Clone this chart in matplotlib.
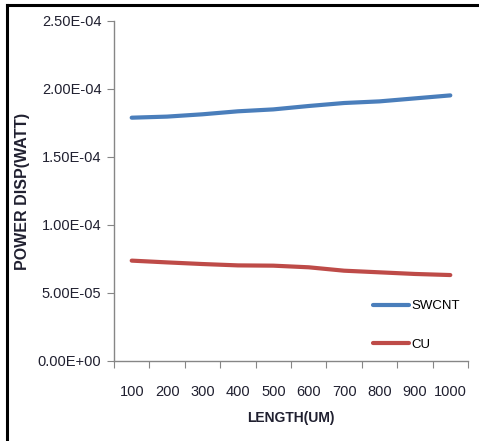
import numpy as np
import matplotlib.pyplot as plt
from matplotlib.lines import Line2D
from matplotlib.ticker import FixedLocator, FuncFormatter

# values
lengths = ["100", "200", "300", "400", "500", "600", "700", "800", "900", "1000"]
swcnt = [1.789e-4, 1.797e-4, 1.814e-4, 1.836e-4, 1.850e-4,
         1.875e-4, 1.897e-4, 1.909e-4, 1.931e-4, 1.953e-4]
cu = [7.38e-5, 7.25e-5, 7.13e-5, 7.03e-5, 7.01e-5,
      6.89e-5, 6.64e-5, 6.52e-5, 6.40e-5, 6.32e-5]
y_ticks = [0, 5e-5, 1e-4, 1.5e-4, 2e-4, 2.5e-4]

plt.rcParams['font.family'] = ['Liberation Sans', 'DejaVu Sans']
txt = "#202030"
axis_gray = "#868686"

fig = plt.figure(figsize=(4.79, 4.41), dpi=100)
ax = fig.add_axes([114/479, 1 - 361/441, (468 - 114)/479, (361 - 21)/441])

x = np.arange(len(lengths))
ax.plot(x, swcnt, color="#4A7EBB", lw=3, solid_capstyle="round", label="SWCNT")
ax.plot(x, cu, color="#BE4B48", lw=3, solid_capstyle="round", label="CU")

ax.set_xlim(-0.5, len(lengths) - 0.5)
ax.set_ylim(0, 2.5e-4)
ax.set_yticks(y_ticks)
ax.yaxis.set_major_formatter(FuncFormatter(lambda v, p: f"{v:.2E}"))

# category boundaries carry the tick marks, centres carry the labels
ax.xaxis.set_major_locator(FixedLocator(np.arange(-0.5, len(lengths), 1.0)))
ax.xaxis.set_major_formatter(FuncFormatter(lambda v, p: ""))
ax.xaxis.set_minor_locator(FixedLocator(x))
ax.set_xticklabels(lengths, minor=True)
ax.tick_params(axis="x", which="minor", length=0, pad=17, labelsize=10.5, labelcolor=txt)
ax.tick_params(axis="x", which="major", length=5, color=axis_gray, direction="out")
ax.tick_params(axis="y", length=5, color=axis_gray, direction="out", pad=4,
               labelsize=10.5, labelcolor=txt)

for s in ["top", "right"]:
    ax.spines[s].set_visible(False)
for s in ["left", "bottom"]:
    ax.spines[s].set_color(axis_gray)
    ax.spines[s].set_linewidth(1)

ax.set_xlabel("LENGTH(UM)", fontsize=10, fontweight="bold", color=txt, labelpad=9)
ax.set_ylabel("POWER DISP(WATT)", fontsize=11.5, fontweight="bold", color=txt, labelpad=6)

ax.legend(loc="upper left", bbox_to_anchor=(373/479, 1 - 300/441),
          bbox_transform=fig.transFigure, frameon=False, fontsize=9.5,
          handlelength=2.7, labelspacing=2.0, handletextpad=0.2,
          borderpad=0, borderaxespad=0)

# chart border (left and top visible in the reference)
fig.add_artist(Line2D([7/479, 7/479], [0, 1 - 5/441], transform=fig.transFigure,
                      color="black", lw=2.2))
fig.add_artist(Line2D([7/479, 1], [1 - 5/441, 1 - 5/441], transform=fig.transFigure,
                      color="black", lw=2.2))

plt.savefig("out.png", dpi=100)
plt.close()
